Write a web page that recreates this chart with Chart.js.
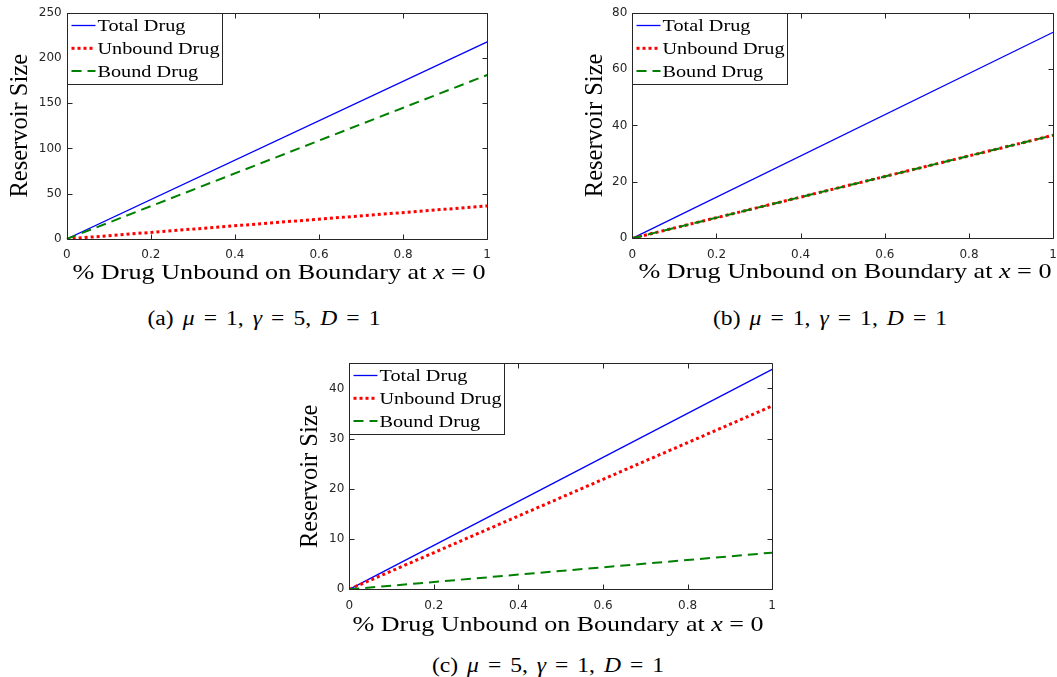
<!DOCTYPE html>
<html>
<head>
<meta charset="utf-8">
<script src="https://cdn.jsdelivr.net/npm/chart.js@4.4.1/dist/chart.umd.min.js"></script>
<style>
html, body { margin: 0; padding: 0; background: #fff; width: 1057px; height: 677px; overflow: hidden; position: relative; }
canvas { position: absolute; }
.xt, .cap { position: absolute; font-family: "Liberation Serif", serif; color: #000; white-space: nowrap; line-height: 1; transform: translateX(-50%); }
.xt { font-size: 22px; }
.cap { font-size: 20px; }
</style>
</head>
<body>
<canvas id="cA" width="492" height="262" style="left:8px;top:0px"></canvas>
<canvas id="cB" width="483" height="262" style="left:583px;top:0px"></canvas>
<canvas id="cC" width="487" height="262" style="left:298px;top:350px"></canvas>

<div class="xt" data-w="413" style="left:278.5px;top:260.7px">% Drug Unbound on Boundary at <i>x</i> = 0</div>
<div class="xt" data-w="413" style="left:845px;top:259.7px">% Drug Unbound on Boundary at <i>x</i> = 0</div>
<div class="xt" data-w="411" style="left:557.5px;top:613px">% Drug Unbound on Boundary at <i>x</i> = 0</div>

<div class="cap" data-w="233" style="left:263.5px;top:308px">(a) <i>μ</i> = 1, <i>γ</i> = 5, <i>D</i> = 1</div>
<div class="cap" data-w="234" style="left:830px;top:308px">(b) <i>μ</i> = 1, <i>γ</i> = 1, <i>D</i> = 1</div>
<div class="cap" data-w="232" style="left:547.5px;top:655px">(c) <i>μ</i> = 5, <i>γ</i> = 1, <i>D</i> = 1</div>

<script>
// waarden (rechte lijnen, begin- en eindpunt)
const xVals = [0, 1];
const xTicks = [0, 0.2, 0.4, 0.6, 0.8, 1];
const seriesNames = ['Total Drug', 'Unbound Drug', 'Bound Drug'];

const totalA = [0, 217.5];
const unboundA = [0, 36.5];
const boundA = [0, 181];
const yTicksA = [0, 50, 100, 150, 200, 250];
const yMaxA = 250;

const totalB = [0, 73];
const unboundB = [0, 36.5];
const boundB = [0, 36.5];
const yTicksB = [0, 20, 40, 60, 80];
const yMaxB = 80;

const totalC = [0, 43.8];
const unboundC = [0, 36.5];
const boundC = [0, 7.3];
const yTicksC = [0, 10, 20, 30, 40];
const yMaxC = 45;

const lineStyles = [
    {color: '#0000ff', width: 1.3, dash: [], order: 3},
    {color: '#ff0000', width: 3, dash: [3, 3], order: 2},
    {color: '#008000', width: 2, dash: [10, 6], order: 1}
];
const axisColor = '#262626';

// as-titels iets breder trekken (Computer Modern is breder dan Times)
document.querySelectorAll('.xt').forEach(el => {
    const k = +el.dataset.w / el.getBoundingClientRect().width;
    el.style.transform = `translateX(-50%) scaleX(${k})`;
});
// onderschriften: verbreed + ruimere spaties zoals in LaTeX math
document.querySelectorAll('.cap').forEach(el => {
    const k = 1.18;
    el.style.transform = `translateX(-50%) scaleX(${k})`;
    const spaces = el.textContent.split(' ').length - 1;
    const extra = (+el.dataset.w - el.getBoundingClientRect().width) / spaces / k;
    el.style.wordSpacing = Math.max(0, extra) + 'px';
});

// kader met ticks naar binnen + legenda linksboven
const boxPlugin = {
    id: 'matlabBox',
    afterDatasetsDraw(chart) {
        const {ctx, chartArea: a, scales: {x, y}} = chart;
        const L = Math.round(a.left) + 0.5, R = Math.round(a.right) + 0.5;
        const T = Math.round(a.top) + 0.5, B = Math.round(a.bottom) + 0.5;
        ctx.save();
        ctx.strokeStyle = axisColor;
        ctx.lineWidth = 1;
        ctx.setLineDash([]);
        ctx.beginPath();
        ctx.rect(L, T, R - L, B - T);
        x.ticks.forEach(t => {
            const px = Math.round(x.getPixelForValue(t.value)) + 0.5;
            ctx.moveTo(px, B); ctx.lineTo(px, B - 5);
            ctx.moveTo(px, T); ctx.lineTo(px, T + 5);
        });
        y.ticks.forEach(t => {
            const py = Math.round(y.getPixelForValue(t.value)) + 0.5;
            ctx.moveTo(L, py); ctx.lineTo(L + 5, py);
            ctx.moveTo(R, py); ctx.lineTo(R - 5, py);
        });
        ctx.stroke();

        // legenda
        ctx.font = '17px "Liberation Serif"';
        const ds = chart.data.datasets;
        const maxW = Math.max(...ds.map(d => ctx.measureText(d.label).width));
        const k = 122 / maxW;
        const w = 30 + 122 + 3, h = 71;
        ctx.fillStyle = '#fff';
        ctx.fillRect(L, T, w, h);
        ctx.strokeRect(L, T, w, h);
        ds.forEach((d, i) => {
            const cy = T + 12 + i * 22.8;
            ctx.save();
            ctx.strokeStyle = d.borderColor;
            ctx.lineWidth = d.borderWidth;
            ctx.setLineDash(d.borderDash);
            ctx.beginPath();
            ctx.moveTo(L + 4, cy); ctx.lineTo(L + 28, cy);
            ctx.stroke();
            ctx.restore();
            ctx.save();
            ctx.translate(L + 30, cy + 1);
            ctx.scale(k, 1);
            ctx.fillStyle = '#000';
            ctx.textBaseline = 'middle';
            ctx.textAlign = 'left';
            ctx.fillText(d.label, 0, 0);
            ctx.restore();
        });
        ctx.restore();
    }
};

function makeChart(id, series, yTicks, yMax, fit) {
    const datasets = series.map((vals, i) => ({
        label: seriesNames[i],
        data: xVals.map((xv, k) => ({x: xv, y: vals[k]})),
        borderColor: lineStyles[i].color,
        borderWidth: lineStyles[i].width,
        borderDash: lineStyles[i].dash,
        borderCapStyle: 'butt',
        order: lineStyles[i].order,
        pointRadius: 0,
        tension: 0,
        fill: false
    }));
    return new Chart(document.getElementById(id), {
        type: 'line',
        data: {datasets},
        options: {
            responsive: false,
            animation: false,
            devicePixelRatio: 1,
            layout: {padding: {top: fit.top, right: fit.right, left: 0, bottom: 0}},
            plugins: {legend: {display: false}, tooltip: {enabled: false}},
            scales: {
                x: {
                    type: 'linear', min: 0, max: 1,
                    afterBuildTicks: s => { s.ticks = xTicks.map(v => ({value: v})); },
                    afterFit: s => { s.height = fit.xH; },
                    grid: {display: false, drawTicks: false},
                    border: {display: false},
                    ticks: {
                        autoSkip: false, maxRotation: 0, padding: 9,
                        color: axisColor,
                        font: {family: 'DejaVu Sans', size: 12},
                        callback: v => String(v)
                    }
                },
                y: {
                    type: 'linear', min: 0, max: yMax,
                    afterBuildTicks: s => { s.ticks = yTicks.map(v => ({value: v})); },
                    afterFit: s => { s.width = fit.yW; },
                    grid: {display: false, drawTicks: false},
                    border: {display: false},
                    ticks: {
                        padding: 5,
                        color: axisColor,
                        font: {family: 'DejaVu Sans', size: 12},
                        callback: v => String(v)
                    },
                    title: {
                        display: true, text: 'Reservoir Size', color: '#000',
                        padding: 0,
                        font: {family: 'Liberation Serif', size: 24.5, lineHeight: 1}
                    }
                }
            }
        },
        plugins: [boxPlugin]
    });
}

makeChart('cA', [totalA, unboundA, boundA], yTicksA, yMaxA, {top: 12.5, right: 8.3, xH: 23, yW: 58.7});
makeChart('cB', [totalB, unboundB, boundB], yTicksB, yMaxB, {top: 12.5, right: 9.3, xH: 23.7, yW: 49.3});
makeChart('cC', [totalC, unboundC, boundC], yTicksC, yMaxC, {top: 13.3, right: 10, xH: 22.7, yW: 51.3});
</script>
</body>
</html>
